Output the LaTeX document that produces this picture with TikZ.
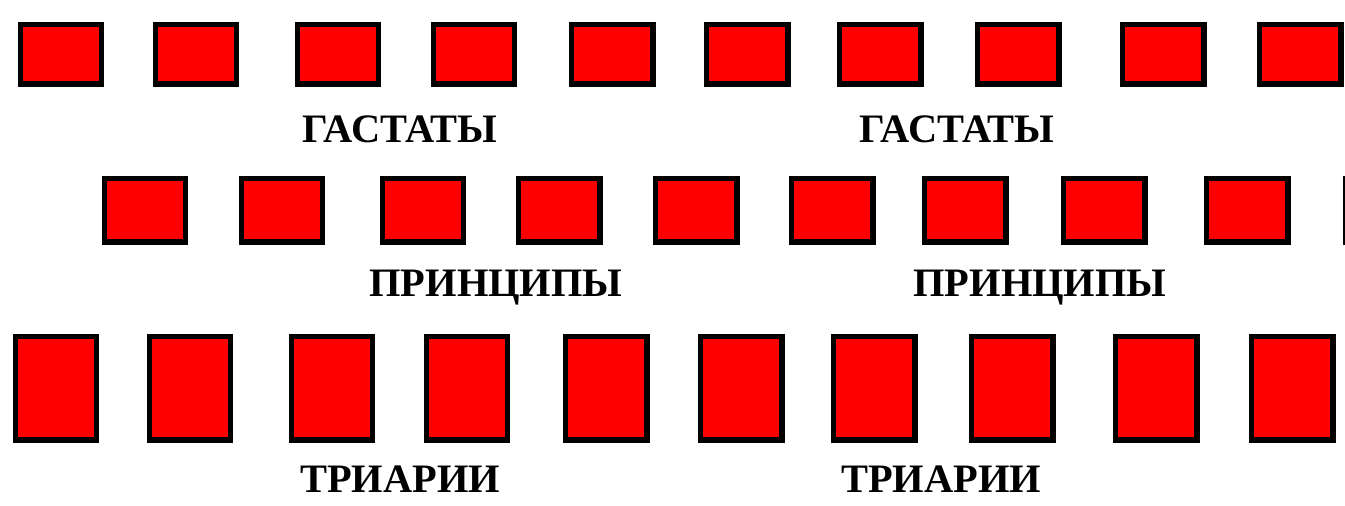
\documentclass[tikz,border=0pt]{standalone}
\usepackage{fontspec}
\setmainfont{Liberation Serif}
\usepackage{tikz}
\usetikzlibrary{positioning}
\definecolor{legred}{HTML}{FF0000}
\tikzset{
  maniple/.style={draw=black, fill=legred, line width=0.11cm, inner sep=0pt, minimum width=1.63cm},
  linename/.style={font=\fontsize{23}{23}\selectfont\bfseries, anchor=base, inner sep=0pt}
}

\begin{document}
\begin{tikzpicture}[x=0.02cm, y=-0.02cm]
  \fill[white] (0,0) rectangle (1345,505);
  \useasboundingbox (0,0) rectangle (1345,505);
  \clip (0,0) rectangle (1345,505);
  % first line
  \foreach \cx [count=\i] in {61,196,338,474,612,747,880,1018,1163,1300}
    \node[maniple, minimum height=1.19cm] (g\i) at (\cx,54) {};
  \node[linename] (lg1) at (400,142) {ГАСТАТЫ};
  \node[linename] (lg2) at (957,142) {ГАСТАТЫ};
  % second line
  \foreach \cx [count=\i] in {145,282,423,559,696,832,965,1104,1247,1386}
    \node[maniple, minimum height=1.27cm] (p\i) at (\cx,210) {};
  \node[linename] (lp1) at (496,296) {ПРИНЦИПЫ};
  \node[linename] (lp2) at (1040,296) {ПРИНЦИПЫ};
  % third line
  \foreach \cx [count=\i] in {56,190,332,467,606,741,874,1012,1156,1292}
    \node[maniple, minimum height=2.07cm] (t\i) at (\cx,388) {};
  \node[linename] (lt1) at (400,492) {ТРИАРИИ};
  \node[linename] (lt2) at (941,492) {ТРИАРИИ};
\end{tikzpicture}
\end{document}
